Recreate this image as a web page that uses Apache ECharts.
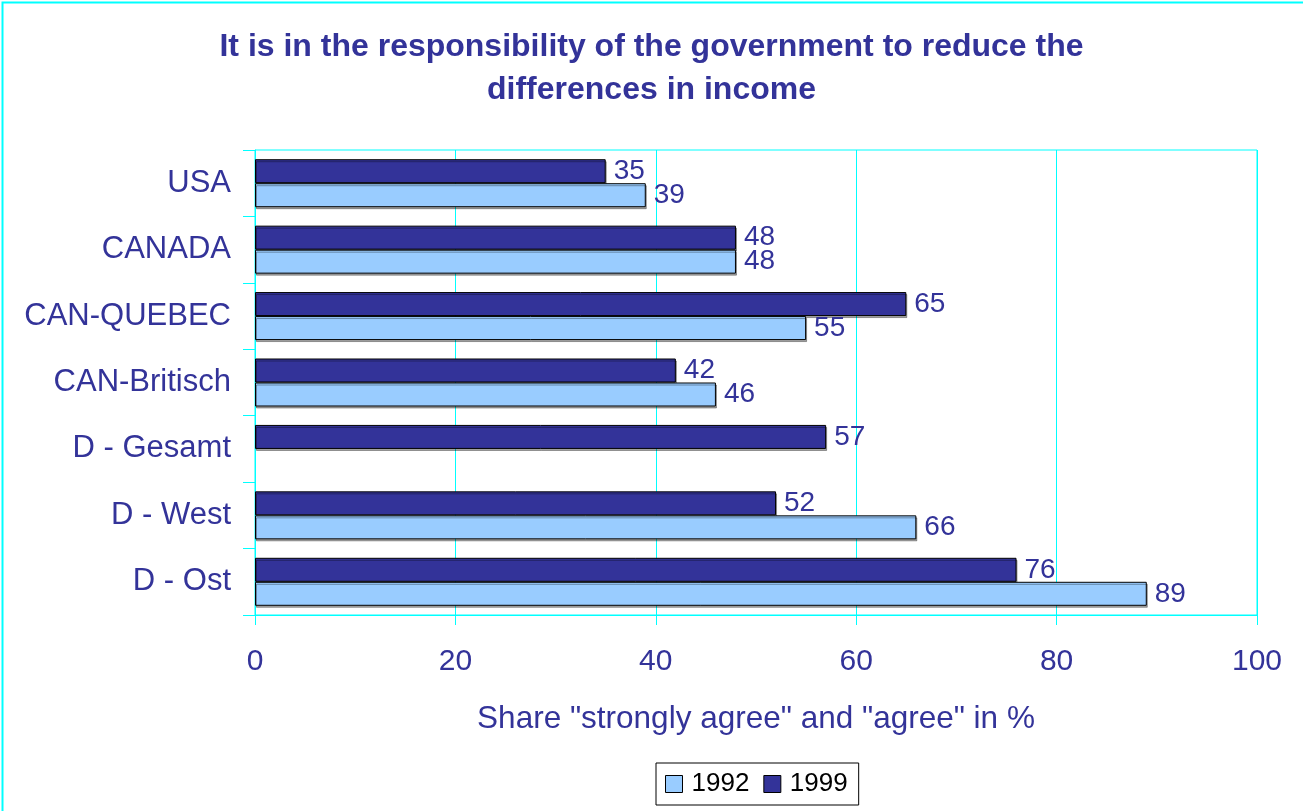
<!DOCTYPE html>
<html>
<head>
<meta charset="utf-8">
<script src="https://cdn.jsdelivr.net/npm/echarts@6/dist/echarts.min.js"></script>
<style>
  html, body { margin: 0; padding: 0; background: #fff; }
  #main { width: 1303px; height: 811px; }
</style>
</head>
<body>
<div id="main"></div>
<script>
// data
const categories = ['USA', 'CANADA', 'CAN-QUEBEC', 'CAN-Britisch', 'D - Gesamt', 'D - West', 'D - Ost'];
const values1999 = [35, 48, 65, 42, 57, 52, 76];
const values1992 = [39, 48, 55, 46, null, 66, 89];
const xTicks = [0, 20, 40, 60, 80, 100];

const navy = '#333399';
const cyan = '#00FFFF';
const font = 'Arial, "Liberation Sans", sans-serif';

const chart = echarts.init(document.getElementById('main'));

const barLabel = {
  show: true,
  position: 'right',
  distance: 8,
  color: navy,
  fontFamily: font,
  fontSize: 28
};

const option = {
  backgroundColor: '#fff',
  animation: false,
  title: {
    text: 'It is in the responsibility of the government to reduce the\ndifferences in income',
    left: 'center',
    top: 21,
    textStyle: {
      color: navy,
      fontFamily: font,
      fontWeight: 'bold',
      fontSize: 32,
      lineHeight: 43
    }
  },
  legend: {
    data: ['1992', '1999'],
    left: 656,
    bottom: 6,
    icon: 'rect',
    itemWidth: 17,
    itemHeight: 17,
    itemGap: 14,
    padding: [8, 11, 8, 9],
    borderColor: '#000',
    borderWidth: 1,
    borderRadius: 0,
    itemStyle: { borderColor: '#000', borderWidth: 1 },
    textStyle: { color: '#000', fontFamily: font, fontSize: 26, padding: [0, 0, 0, 4] }
  },
  grid: {
    left: 255,
    right: 46,
    top: 150,
    bottom: 196,
    show: true,
    borderColor: cyan,
    borderWidth: 1
  },
  xAxis: {
    type: 'value',
    min: 0,
    max: 100,
    interval: 20,
    name: 'Share "strongly agree" and "agree" in %',
    nameLocation: 'middle',
    nameGap: 88,
    nameTextStyle: { color: navy, fontFamily: font, fontSize: 31.5 },
    axisLine: { show: true, lineStyle: { color: cyan } },
    axisTick: { show: true, length: 10, lineStyle: { color: cyan } },
    axisLabel: {
      color: navy,
      fontFamily: font,
      fontSize: 30,
      margin: 32,
      formatter: v => xTicks.includes(v) ? String(v) : ''
    },
    splitLine: { show: true, lineStyle: { color: cyan, width: 1 } }
  },
  yAxis: {
    type: 'category',
    data: categories,
    inverse: true,
    axisLine: { show: true, lineStyle: { color: cyan } },
    axisTick: { show: true, length: 12, lineStyle: { color: cyan } },
    axisLabel: {
      color: navy,
      fontFamily: font,
      fontSize: 31,
      margin: 24
    }
  },
  series: [
    {
      name: '1999',
      type: 'bar',
      data: values1999,
      barWidth: 24,
      barGap: '0%',
      itemStyle: {
        color: navy, borderColor: '#000', borderWidth: 1,
        shadowColor: 'rgba(0,0,0,0.35)', shadowOffsetX: 1, shadowOffsetY: 2
      },
      label: barLabel
    },
    {
      name: '1992',
      type: 'bar',
      data: values1992,
      barWidth: 24,
      barGap: '0%',
      itemStyle: {
        color: '#99CCFF', borderColor: '#000', borderWidth: 1,
        shadowColor: 'rgba(0,0,0,0.35)', shadowOffsetX: 1, shadowOffsetY: 2
      },
      label: barLabel
    }
  ],
  graphic: [
    {
      type: 'rect',
      left: 0,
      top: 0,
      shape: { width: 1302, height: 810 },
      style: { fill: 'none', stroke: cyan, lineWidth: 2 },
      silent: true
    }
  ]
};

chart.setOption(option);
</script>
</body>
</html>
